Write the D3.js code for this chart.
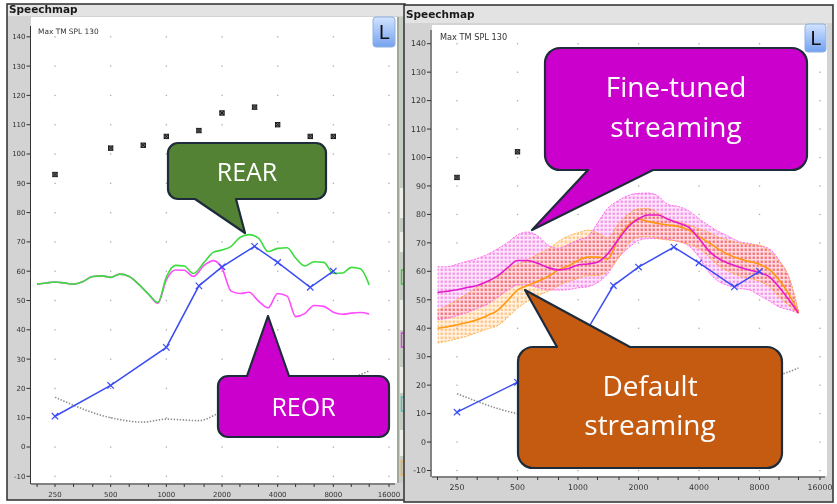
<!DOCTYPE html>
<html>
<head>
<meta charset="utf-8">
<script src="https://cdn.jsdelivr.net/npm/d3@7"></script>
<style>
  body { margin: 0; background: #fff; }
  svg { display: block; font-family: "DejaVu Sans", sans-serif; }
</style>
</head>
<body>
<svg id="chart" width="837" height="504"></svg>
<script>
// ---- data ----
const tickFreqs = [250, 500, 1000, 2000, 4000, 8000, 16000];
const tickLabels = ["250", "500", "1000", "2000", "4000", "8000", "16000"];
const minorFreqs = [200, 250, 315, 400, 500, 630, 800, 1000, 1250, 1600, 2000, 2500, 3150, 4000, 5000, 6300, 8000, 10000, 12500, 16000];
const dbTicks = [140, 130, 120, 110, 100, 90, 80, 70, 60, 50, 40, 30, 20, 10, 0, -10];

// UCL markers (black)
const uclFreqs = [250, 500, 750, 1000, 1500, 2000, 3000, 4000, 6000, 8000];
const uclDb = [93, 102, 103, 106, 108, 114, 116, 110, 106, 106];

// audiogram in SPL (blue)
const audFreqs = [250, 500, 1000, 1500, 2000, 3000, 4000, 6000, 8000];
const audDb = [10.5, 21, 34, 55, 61.5, 68.5, 63, 54.5, 60];

// dotted grey curve
const noiseFreqs = [250, 500, 750, 1000, 1500, 2000, 4000, 8000, 12500];
const noiseDb = [17, 10, 8.5, 9.5, 9, 12, 16, 21, 26];

// measured curves share one frequency grid
const curveFreqs = [200, 224, 250, 280, 315, 355, 400, 450, 500, 560, 630, 710, 800, 900, 1000, 1120, 1250, 1400, 1600, 1800, 2000, 2240, 2500, 2800, 3150, 3550, 4000, 4500, 5000, 5600, 6300, 7100, 8000, 9000, 10000, 11200, 12500];

// left panel
const rearDb = [55.6, 56, 56.3, 56, 55.6, 56.5, 58.2, 58.4, 57.9, 59, 58.2, 55.5, 52.2, 49.3, 58, 62, 61.8, 59.2, 63, 66.5, 67.2, 68.5, 71.5, 72.5, 71.3, 66.7, 67.8, 68, 64.5, 61.8, 63.2, 63, 59.3, 59.4, 61.3, 60.8, 55.3];
const reorDb = [55.6, 56, 56.3, 56, 55.6, 56.5, 58.2, 58.4, 57.9, 59, 58.2, 55.5, 52.2, 49, 57, 60.4, 60.3, 58.2, 62, 63.6, 61, 53.2, 52.4, 52.8, 49.8, 47.5, 52.4, 51.5, 44.5, 45.5, 48.3, 48, 46, 45.3, 45.7, 45.9, 45.4];

// right panel: fine-tuned streaming (magenta) and default streaming (orange)
const fineMean = [52.6, 53, 53.5, 54.3, 55, 56.5, 58.5, 61.5, 63.8, 63.8, 62.8, 61.3, 60.5, 61, 62.2, 62.6, 63.2, 66, 71.5, 76, 78.5, 79.8, 79.8, 78.3, 77, 75.5, 71.5, 67, 64.5, 62.8, 61.5, 60.5, 59.5, 58, 54.5, 50, 45.3];
const fineHi = [61.6, 61.6, 62.5, 63.5, 64.5, 66, 68, 70.3, 72.8, 73.8, 72.5, 69.2, 68.1, 69.5, 71, 72.2, 77, 82, 85, 86.8, 87.4, 87.5, 86.5, 83.5, 82.8, 81.3, 78.5, 76, 74, 72.3, 70.5, 69.8, 69, 67.8, 64, 58, 46];
const fineLo = [43, 43.5, 44.5, 45.5, 47, 48.5, 51, 53.5, 55.2, 55.2, 54.3, 53.5, 53.4, 53.6, 54.2, 54.6, 56, 59, 65, 68.5, 70.8, 71.5, 71.5, 71.2, 70.5, 69, 65, 59.5, 56.5, 55, 54, 53.5, 51.5, 49.5, 47.5, 46.5, 45.3];
const defMean = [40, 40.5, 41.2, 42, 43, 44.5, 46.4, 50, 53.4, 55, 56.5, 58.2, 60.5, 62, 63.8, 65, 65, 64.3, 72, 76.5, 78.3, 77.5, 76.8, 76.3, 75.8, 74.5, 72.2, 70, 67.8, 65.9, 64.5, 63.5, 62.5, 60.5, 57, 52, 45.5];
const defHi = [46.4, 48, 50, 52, 54.5, 56.5, 58.1, 61, 62.5, 64, 66, 67.8, 70.5, 72.5, 73.5, 74.5, 73.5, 71.8, 77, 80.4, 82, 82.1, 80.5, 78.5, 77.4, 76.3, 75, 73.6, 72, 71, 70, 69.5, 69.2, 67, 63.5, 58, 46];
const defLo = [34.8, 35.5, 36.3, 37.2, 38.5, 39.8, 41, 44, 47, 49.5, 51.5, 53, 55, 56.5, 57.5, 58.5, 58.5, 60, 65, 70, 72, 72.2, 71.5, 71, 70.5, 69.5, 68, 65, 62, 60, 58.5, 57.5, 56.5, 54.5, 51, 48, 45];

// ---- layout ----
const svg = d3.select("#chart");
const defs = svg.append("defs");

function dotPattern(id, bg, dot) {
  const p = defs.append("pattern").attr("id", id)
    .attr("patternUnits", "userSpaceOnUse").attr("width", 4).attr("height", 4);
  p.append("rect").attr("width", 4).attr("height", 4).attr("fill", bg);
  p.append("rect").attr("x", 0.6).attr("y", 0.6).attr("width", 2.3).attr("height", 2.3).attr("fill", dot);
}
dotPattern("pinkDots", "#fce6fa", "#f595e8");
dotPattern("orangeDots", "#fff2e4", "#ffc585");

const grad = defs.append("linearGradient").attr("id", "btn").attr("x1", 0).attr("y1", 0).attr("x2", 0).attr("y2", 1);
grad.append("stop").attr("offset", "0%").attr("stop-color", "#d2e3ff");
grad.append("stop").attr("offset", "100%").attr("stop-color", "#74a2f0");

const panels = [
  { box: [7, 4, 405, 500], bar: [5, 16], titleY: 13, plot: [31, 17, 397, 483],
    xr: [55, 389], yr: [476.3, 36.8], axisX: 30.5, axisY: 484, yTop: 26, font: 7,
    maxText: [38, 34], btn: [373, 17, 22, 30] },
  { box: [404, 5, 833, 502], bar: [6, 23], titleY: 17.5, plot: [432, 25, 827, 476],
    xr: [457, 820], yr: [470.5, 43.7], axisX: 431, axisY: 477, yTop: 30, font: 7.8,
    maxText: [440, 40], btn: [805, 24, 21, 28] }
];

function drawFrame(P, g) {
  const [bx0, by0, bx1, by1] = P.box;
  g.append("rect").attr("x", bx0).attr("y", by0).attr("width", bx1 - bx0).attr("height", by1 - by0)
    .attr("fill", "#d3d3d3").attr("stroke", "#3a3a3a").attr("stroke-width", 1.6);
  g.append("rect").attr("x", bx0 + 1).attr("y", P.bar[0]).attr("width", bx1 - bx0 - 2).attr("height", P.bar[1] - P.bar[0])
    .attr("fill", "#e3e3e3");
  g.append("text").attr("x", bx0 + 2).attr("y", P.titleY).attr("font-size", 10.5).attr("font-weight", "bold")
    .attr("fill", "#1a1a1a").text("Speechmap");
  const [l, t, r, b] = P.plot;
  g.append("rect").attr("x", l).attr("y", t).attr("width", r - l).attr("height", b - t).attr("fill", "#fff");
}

function drawAxes(P, g, x, y) {
  // grid dots
  tickFreqs.forEach(f => dbTicks.forEach(d => {
    g.append("rect").attr("x", x(f) - 0.6).attr("y", y(d) - 0.6).attr("width", 1.3).attr("height", 1.3).attr("fill", "#aaa");
  }));
  // y axis
  g.append("line").attr("x1", P.axisX).attr("x2", P.axisX).attr("y1", P.yTop).attr("y2", P.axisY)
    .attr("stroke", "#333").attr("stroke-width", 1);
  const yg = g.append("g").attr("font-size", P.font).attr("fill", "#333");
  dbTicks.forEach(d => {
    yg.append("line").attr("x1", P.axisX - 4).attr("x2", P.axisX).attr("y1", y(d)).attr("y2", y(d)).attr("stroke", "#333");
    yg.append("text").attr("x", P.axisX - 5).attr("y", y(d)).attr("dy", "0.35em").attr("text-anchor", "end").text(d);
  });
  // x axis
  g.append("line").attr("x1", P.plot[0]).attr("x2", P.plot[2] - 2).attr("y1", P.axisY).attr("y2", P.axisY)
    .attr("stroke", "#333").attr("stroke-width", 1);
  minorFreqs.forEach(f => {
    g.append("line").attr("x1", x(f)).attr("x2", x(f)).attr("y1", P.axisY).attr("y2", P.axisY + 3).attr("stroke", "#333");
  });
  tickFreqs.forEach((f, i) => {
    g.append("text").attr("x", x(f)).attr("y", P.axisY + 12.5).attr("text-anchor", "middle")
      .attr("font-size", P.font).attr("fill", "#333").text(tickLabels[i]);
  });
  g.append("text").attr("x", P.maxText[0]).attr("y", P.maxText[1]).attr("font-size", P.font + 0.4)
    .attr("fill", "#333").text("Max TM SPL 130");
  const [bx, by, bw, bh] = P.btn;
  g.append("rect").attr("x", bx).attr("y", by).attr("width", bw).attr("height", bh).attr("rx", 3)
    .attr("fill", "url(#btn)").attr("stroke", "#8fb0e0");
  g.append("text").attr("x", bx + bw / 2).attr("y", by + bh / 2).attr("dy", "0.36em").attr("text-anchor", "middle")
    .attr("font-size", 19).attr("fill", "#111").text("L");
}

function drawCommon(g, x, y) {
  const line = d3.line().x(d => x(d[0])).y(d => y(d[1]));
  g.append("path").datum(d3.zip(noiseFreqs, noiseDb))
    .attr("d", line.curve(d3.curveMonotoneX)).attr("fill", "none")
    .attr("stroke", "#8c8c8c").attr("stroke-width", 1.6).attr("stroke-dasharray", "1.4,1.6");
  g.append("path").datum(d3.zip(audFreqs, audDb))
    .attr("d", d3.line().x(d => x(d[0])).y(d => y(d[1]))).attr("fill", "none")
    .attr("stroke", "#3a4cf4").attr("stroke-width", 1.5);
  audFreqs.forEach((f, i) => {
    const cx = x(f), cy = y(audDb[i]), s = 3.2;
    g.append("path").attr("d", `M${cx - s},${cy - s}L${cx + s},${cy + s}M${cx - s},${cy + s}L${cx + s},${cy - s}`)
      .attr("stroke", "#3a4cf4").attr("stroke-width", 1.2);
  });
  uclFreqs.forEach((f, i) => {
    const cx = x(f), cy = y(uclDb[i]), s = 2.2;
    g.append("rect").attr("x", cx - s).attr("y", cy - s).attr("width", 2 * s).attr("height", 2 * s)
      .attr("fill", "#777").attr("stroke", "#111").attr("stroke-width", 0.9);
    g.append("path").attr("d", `M${cx - s},${cy - s}L${cx + s},${cy + s}M${cx - s},${cy + s}L${cx + s},${cy - s}`)
      .attr("stroke", "#111").attr("stroke-width", 0.9);
  });
}

// ---- left panel: REAR / REOR ----
(function () {
  const P = panels[0];
  const g = svg.append("g");
  drawFrame(P, g);
  // legend strip on the right edge
  g.append("rect").attr("x", 397).attr("y", 17).attr("width", 2).attr("height", 466).attr("fill", "#9fa89a");
  g.append("rect").attr("x", 399).attr("y", 17).attr("width", 6).attr("height", 466).attr("fill", "#c6cdc2");
  [[188, 30], [232, 20], [300, 30], [367, 26], [430, 26]].forEach(s => {
    g.append("rect").attr("x", 400).attr("y", s[0]).attr("width", 5).attr("height", s[1]).attr("fill", "#eef0ec");
  });
  [["#33cc33", 270], ["#ee33ee", 333], ["#33cccc", 397], ["#ffaa33", 461]].forEach(s => {
    g.append("path").attr("d", `M404,${s[1]}H401.5V${s[1] + 14}H404`).attr("fill", "none")
      .attr("stroke", s[0]).attr("stroke-width", 1.3);
  });

  const x = d3.scaleLog().base(2).domain([250, 16000]).range(P.xr);
  const y = d3.scaleLinear().domain([-10, 140]).range(P.yr);
  drawAxes(P, g, x, y);
  const line = d3.line().x(d => x(d[0])).y(d => y(d[1])).curve(d3.curveMonotoneX);
  g.append("path").datum(d3.zip(curveFreqs, reorDb)).attr("d", line)
    .attr("fill", "none").attr("stroke", "#ff4cff").attr("stroke-width", 1.6);
  g.append("path").datum(d3.zip(curveFreqs, rearDb)).attr("d", line)
    .attr("fill", "none").attr("stroke", "#3ddc3d").attr("stroke-width", 1.6);
  drawCommon(g, x, y);
})();

// ---- right panel: streaming ----
(function () {
  const P = panels[1];
  const g = svg.append("g");
  drawFrame(P, g);
  const x = d3.scaleLog().base(2).domain([250, 16000]).range(P.xr);
  const y = d3.scaleLinear().domain([-10, 140]).range(P.yr);
  drawAxes(P, g, x, y);

  const area = d3.area().x(d => x(d[0])).y0(d => y(d[1])).y1(d => y(d[2])).curve(d3.curveMonotoneX);
  const line = d3.line().x(d => x(d[0])).y(d => y(d[1])).curve(d3.curveMonotoneX);

  g.append("path").datum(d3.zip(curveFreqs, fineLo, fineHi)).attr("d", area).attr("fill", "url(#pinkDots)");
  g.append("path").datum(d3.zip(curveFreqs, defLo, defHi)).attr("d", area).attr("fill", "url(#orangeDots)")
    .style("mix-blend-mode", "multiply");

  [[fineHi, "#ff6cf0"], [fineLo, "#ff6cf0"], [defHi, "#ffb24a"], [defLo, "#ffb24a"]].forEach(s => {
    g.append("path").datum(d3.zip(curveFreqs, s[0])).attr("d", line).attr("fill", "none")
      .attr("stroke", s[1]).attr("stroke-width", 1).attr("stroke-dasharray", "2.2,1.2");
  });
  g.append("path").datum(d3.zip(curveFreqs, defMean)).attr("d", line)
    .attr("fill", "none").attr("stroke", "#ff9a12").attr("stroke-width", 1.6);
  g.append("path").datum(d3.zip(curveFreqs, fineMean)).attr("d", line)
    .attr("fill", "none").attr("stroke", "#e61ccc").attr("stroke-width", 1.6);
  drawCommon(g, x, y);
})();

// ---- callouts ----
function calloutPath(b, t) {
  const [x0, y0, x1, y1, r] = b;
  const p = d3.path();
  p.moveTo(x0 + r, y0);
  if (t.side === "top") { p.lineTo(t.b0, y0); p.lineTo(t.tx, t.ty); p.lineTo(t.b1, y0); }
  p.lineTo(x1 - r, y0);
  p.arcTo(x1, y0, x1, y0 + r, r);
  p.lineTo(x1, y1 - r);
  p.arcTo(x1, y1, x1 - r, y1, r);
  if (t.side === "bottom") { p.lineTo(t.b1, y1); p.lineTo(t.tx, t.ty); p.lineTo(t.b0, y1); }
  p.lineTo(x0 + r, y1);
  p.arcTo(x0, y1, x0, y1 - r, r);
  p.lineTo(x0, y0 + r);
  p.arcTo(x0, y0, x0 + r, y0, r);
  p.closePath();
  return p.toString();
}

const callouts = [
  { box: [168, 143, 326, 199, 10], tail: { side: "bottom", b0: 195, b1: 236, tx: 245, ty: 233 },
    fill: "#548235", lines: ["REAR"], size: 25, cy: [172] },
  { box: [218, 376, 389, 437, 10], tail: { side: "top", b0: 247, b1: 289, tx: 268, ty: 316 },
    fill: "#cc00cc", lines: ["REOR"], size: 25, cy: [407] },
  { box: [545, 48, 807, 170, 15], tail: { side: "bottom", b0: 588, b1: 653, tx: 532, ty: 230 },
    fill: "#cc00cc", lines: ["Fine-tuned", "streaming"], size: 28, cy: [87, 127] },
  { box: [518, 347, 782, 468, 15], tail: { side: "top", b0: 557, b1: 630, tx: 525, ty: 290 },
    fill: "#c55a11", lines: ["Default", "streaming"], size: 28, cy: [386, 425] }
];

const cg = svg.append("g");
callouts.forEach(c => {
  cg.append("path").attr("d", calloutPath(c.box, c.tail)).attr("fill", c.fill)
    .attr("stroke", "#1d2b3a").attr("stroke-width", 2.2).attr("stroke-linejoin", "round");
  const cx = (c.box[0] + c.box[2]) / 2;
  c.lines.forEach((t, i) => {
    cg.append("text").attr("x", cx).attr("y", c.cy[i]).attr("dy", "0.36em").attr("text-anchor", "middle")
      .attr("font-family", "'Open Sans', sans-serif").attr("font-size", c.size).attr("fill", "#fff").text(t);
  });
});
</script>
</body>
</html>
